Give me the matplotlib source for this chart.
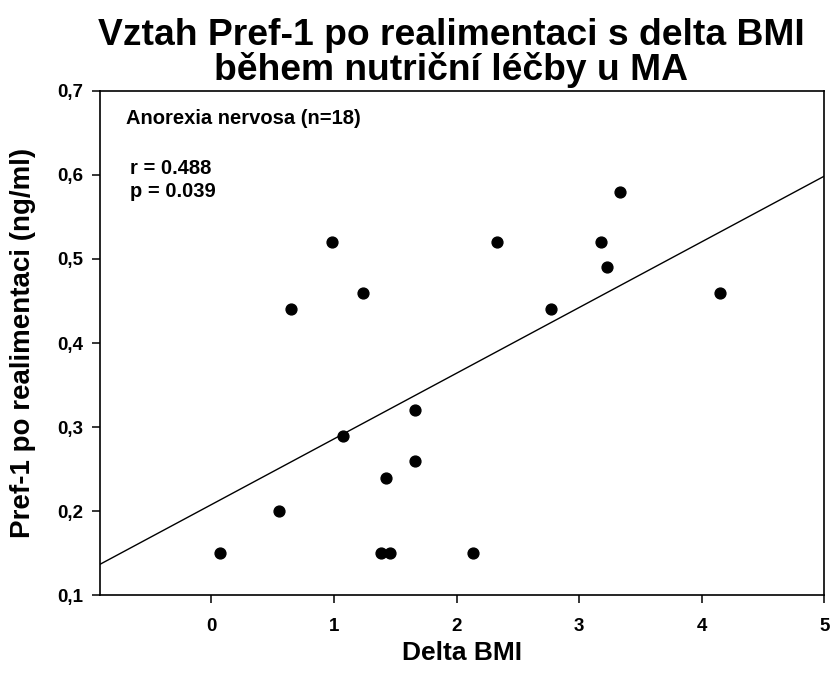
import numpy as np
import matplotlib
matplotlib.use("Agg")
import matplotlib.pyplot as plt

plt.rcParams['font.family'] = ['Liberation Sans', 'DejaVu Sans']
plt.rcParams['font.weight'] = 'bold'

# Delta BMI vs Pref-1 after realimentation
delta_bmi = [0.07, 0.55, 1.07, 1.38, 1.46, 1.42, 1.66, 1.66, 2.13,
             0.98, 1.24, 0.65, 2.33, 3.33, 3.18, 3.23, 2.77, 4.15]
pref1 = [0.15, 0.20, 0.29, 0.15, 0.15, 0.24, 0.32, 0.26, 0.15,
         0.52, 0.46, 0.44, 0.52, 0.58, 0.52, 0.49, 0.44, 0.46]

x_ticks = [0, 1, 2, 3, 4, 5]
y_ticks = [0.1, 0.2, 0.3, 0.4, 0.5, 0.6, 0.7]
y_tick_labels = ['0,1', '0,2', '0,3', '0,4', '0,5', '0,6', '0,7']

x = np.array(delta_bmi)
y = np.array(pref1)
slope, intercept = np.polyfit(x, y, 1)

fig = plt.figure(figsize=(8.31, 6.83), dpi=100)
ax = fig.add_axes([0.1203, 0.1284, 0.8716, 0.7388])

xmin, xmax = -0.91, 5.0
xl = np.array([xmin, xmax])
ax.plot(xl, intercept + slope * xl, color='black', lw=1.0)
ax.plot(x, y, 'o', color='black', ms=7.8, zorder=3)

ax.set_xlim(xmin, xmax)
ax.set_ylim(0.1, 0.7)
ax.set_xticks(x_ticks)
ax.set_xticklabels([str(t) for t in x_ticks])
ax.set_yticks(y_ticks)
ax.set_yticklabels(y_tick_labels)
ax.tick_params(direction='out', length=6, width=1.1, labelsize=13.5, pad=6)
ax.tick_params(axis='x', pad=10)
for sp in ax.spines.values():
    sp.set_linewidth(1.2)

ax.set_xlabel('Delta BMI', fontsize=19, fontweight='bold', labelpad=5)
ax.set_ylabel('Pref-1 po realimentaci (ng/ml)', fontsize=20, fontweight='bold', labelpad=15)

ax.text(0.036, 0.944, 'Anorexia nervosa (n=18)', transform=ax.transAxes,
        fontsize=14.5, fontweight='bold', va='center', ha='left')
ax.text(0.041, 0.846, 'r = 0.488', transform=ax.transAxes,
        fontsize=14.5, fontweight='bold', va='center', ha='left')
ax.text(0.041, 0.800, 'p = 0.039', transform=ax.transAxes,
        fontsize=14.5, fontweight='bold', va='center', ha='left')

fig.text(0.543, 0.922, 'Vztah Pref-1 po realimentaci s delta BMI\nběhem nutriční léčby u MA',
         ha='center', va='center', fontsize=26.8, fontweight='bold', linespacing=0.95)

fig.savefig('out.png', dpi=100)
